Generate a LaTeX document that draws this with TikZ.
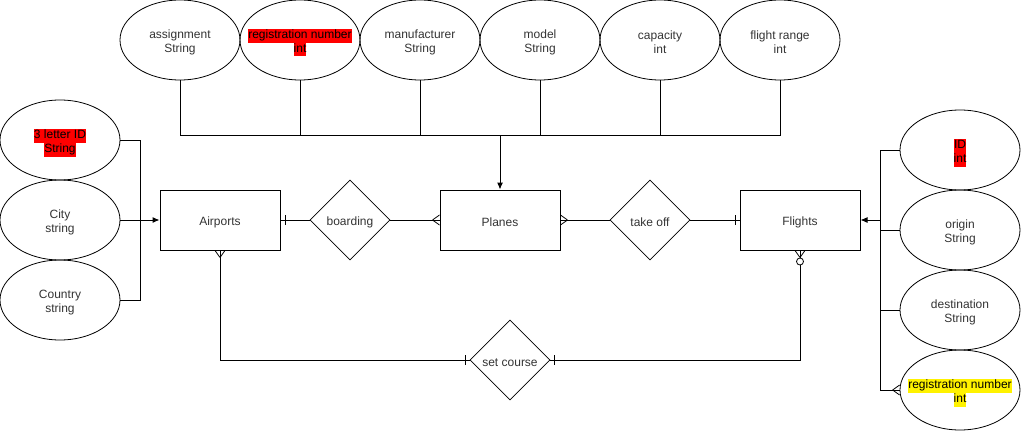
\documentclass[tikz,border=0pt]{standalone}
\usepackage{fontspec}
\setmainfont{Liberation Sans}
\usetikzlibrary{shapes.geometric,arrows.meta,calc}
\definecolor{txt}{HTML}{333333}
\newcommand{\fsz}{\fontsize{12}{14}\selectfont}
\newcommand{\hl}[2]{{\setlength{\fboxsep}{0pt}\colorbox{#1}{\strut #2}}}
\tikzset{
  attr/.style={ellipse, draw, line width=0.8pt, minimum width=120pt, minimum height=80pt, inner sep=0pt},
  lbl/.style={font=\fsz, text=txt, align=center, inner sep=0pt, yshift=-2.5pt},
  hllbl/.style={lbl, text=black},
  entity/.style={rectangle, draw, line width=1pt, minimum width=120pt, minimum height=60pt},
  rel/.style={diamond, draw, line width=0.7pt, minimum width=80pt, minimum height=80pt, inner sep=0pt},
  link/.style={line width=1pt},
  ermark/.style={line width=0.8pt},
  tip/.style={-{Latex[length=7pt,width=6pt]}},
}
\begin{document}
\begin{tikzpicture}[x=1pt,y=-1pt]
\useasboundingbox (0,0) rectangle (1021,431);

% entities
\node[entity] (airports) at (220,220) {};
\node[lbl] at (airports) {Airports};
\node[entity] (planes)   at (500,220) {};
\node[lbl] at (planes) {Planes};
\node[entity] (flights)  at (800,220) {};
\node[lbl] at (flights) {Flights};

% relationships
\node[rel] (boarding)  at (350,220) {};
\node[lbl] at (boarding) {boarding};
\node[rel] (takeoff)   at (650,220) {};
\node[lbl] at (takeoff) {take off};
\node[rel] (setcourse) at (510,360) {};
\node[lbl] at (setcourse) {set course};

% plane attributes
\node[attr] (t1) at (180,40) {};
\node[lbl] at (t1) {assignment\\String};
\node[attr] (t2) at (300,40) {};
\node[hllbl] at (t2) {\hl{red}{registration number}\\\hl{red}{int}};
\node[attr] (t3) at (420,40) {};
\node[lbl] at (t3) {manufacturer\\String};
\node[attr] (t4) at (540,40) {};
\node[lbl] at (t4) {model\\String};
\node[attr] (t5) at (660,40) {};
\node[lbl] at (t5) {capacity\\int};
\node[attr] (t6) at (780,40) {};
\node[lbl] at (t6) {flight range\\int};

% airport attributes
\node[attr] (l1) at (60,140) {};
\node[hllbl] at (l1) {\hl{red}{3 letter ID}\\\hl{red}{String}};
\node[attr] (l2) at (60,220) {};
\node[lbl] at (l2) {City\\string};
\node[attr] (l3) at (60,300) {};
\node[lbl] at (l3) {Country\\string};

% flight attributes
\node[attr] (r1) at (960,150) {};
\node[hllbl] at (r1) {\hl{red}{ID}\\\hl{red}{int}};
\node[attr] (r2) at (960,230) {};
\node[lbl] at (r2) {origin\\String};
\node[attr] (r3) at (960,310) {};
\node[lbl] at (r3) {destination\\String};
\node[attr] (r4) at (960,390) {};
\node[hllbl] at (r4) {\hl{yellow}{registration number}\\\hl{yellow}{int}};

% junction points
\coordinate (tbus) at (500,135);
\coordinate (lbus) at (140,220);
\coordinate (rbus) at (880,220);

% plane attribute bus
\foreach \n in {t1,t2,t3,t4,t5,t6} \draw[link] (\n.south) |- (tbus);
\draw[link,tip] (tbus) -- (planes.north);

% airport attribute bus
\draw[link] (l1.east) -| (lbus);
\draw[link] (l3.east) -| (lbus);
\draw[link,tip] (l2.east) -- (airports.west);

% flight attribute bus
\foreach \n in {r1,r2,r3,r4} \draw[link] (\n.west) -| (rbus);
\draw[link,tip] (rbus) -- (flights.east);
\draw[ermark] ($(r4.west)+(-7,0)$) -- ($(r4.west)+(0,-5)$)
              ($(r4.west)+(-7,0)$) -- ($(r4.west)+(0,5)$);

% boarding
\draw[link] (airports.east) -- (boarding.west);
\draw[ermark] ($(airports.east)+(5,-5)$) -- ($(airports.east)+(5,5)$);
\draw[link] (boarding.east) -- (planes.west);
\draw[ermark] ($(planes.west)+(-7,0)$) -- ($(planes.west)+(0,-5)$)
              ($(planes.west)+(-7,0)$) -- ($(planes.west)+(0,5)$);

% take off
\draw[link] (planes.east) -- (takeoff.west);
\draw[ermark] ($(planes.east)+(7,0)$) -- ($(planes.east)+(0,-5)$)
              ($(planes.east)+(7,0)$) -- ($(planes.east)+(0,5)$);
\draw[link] (takeoff.east) -- (flights.west);
\draw[ermark] ($(flights.west)+(-4,-5)$) -- ($(flights.west)+(-4,5)$);

% set course
\draw[link] (airports.south) |- (setcourse.west);
\draw[ermark] ($(airports.south)+(0,7)$) -- ($(airports.south)+(-5,0)$)
              ($(airports.south)+(0,7)$) -- ($(airports.south)+(5,0)$);
\draw[ermark] ($(setcourse.west)+(-4,-5)$) -- ($(setcourse.west)+(-4,5)$);
\draw[link] (setcourse.east) -| (flights.south);
\draw[ermark] ($(setcourse.east)+(4,-5)$) -- ($(setcourse.east)+(4,5)$);
\draw[ermark] ($(flights.south)+(0,7)$) -- ($(flights.south)+(-5,0)$)
              ($(flights.south)+(0,7)$) -- ($(flights.south)+(5,0)$);
\draw[ermark,fill=white] ($(flights.south)+(0,11)$) circle[radius=3.5];
\end{tikzpicture}
\end{document}
